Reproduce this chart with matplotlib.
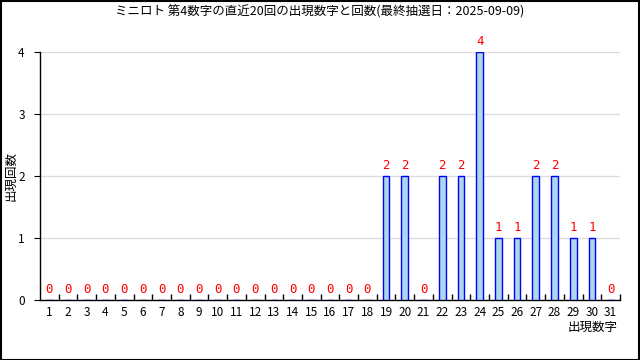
import matplotlib
matplotlib.use("Agg")
import matplotlib.pyplot as plt
from matplotlib.patches import Rectangle
import numpy as np

plt.rcParams['font.family'] = ['Noto Sans CJK JP', 'DejaVu Sans']

numbers = list(range(1, 32))
counts = [0] * 18 + [2, 2, 0, 2, 2, 4, 1, 1, 2, 2, 1, 1, 0]
title = "ミニロト 第4数字の直近20回の出現数字と回数(最終抽選日：2025-09-09)"

fig = plt.figure(figsize=(6.4, 3.6), dpi=100)
ax = fig.add_axes([40 / 640, 60 / 360, 580 / 640, 248 / 360])

ax.bar(numbers, counts, width=0.36, color='lightblue', edgecolor='blue', linewidth=1, zorder=3)

for n, c in zip(numbers, counts):
    ax.text(n, c + 0.07, str(c), color='red', ha='center', va='bottom', fontsize=9,
            family='DejaVu Sans Mono')

ax.set_xlim(0.5, 31.5)
ax.set_ylim(0, 4)
ax.set_yticks([0, 1, 2, 3, 4])
ax.set_xticks(numbers)
ax.set_xticks(np.arange(1.5, 32, 1), minor=True)
ax.tick_params(axis='x', which='major', length=0, labelsize=8.5, pad=4)
ax.tick_params(axis='x', which='minor', direction='in', length=4, width=1)
ax.tick_params(axis='y', direction='out', length=4, labelsize=8.5, pad=7)
ax.grid(axis='y', color='#dddddd', linewidth=1, zorder=0)
for s in ['top', 'right']:
    ax.spines[s].set_visible(False)
for s in ['left', 'bottom']:
    ax.spines[s].set_linewidth(1)

fig.text(0.5, 1 - 12 / 360, title, ha='center', va='center', fontsize=9)
fig.text(11 / 640, 1 - 176 / 360, "出現回数", rotation=90, ha='center', va='center', fontsize=9)
fig.text(618 / 640, 1 - 327 / 360, "出現数字", ha='right', va='center', fontsize=9)

fig.patches.append(Rectangle((0.5 / 640, 0.5 / 360), 638.5 / 640, 358.5 / 360, transform=fig.transFigure,
                             fill=False, edgecolor='black', linewidth=1.5))

fig.savefig("out.png", dpi=100)
